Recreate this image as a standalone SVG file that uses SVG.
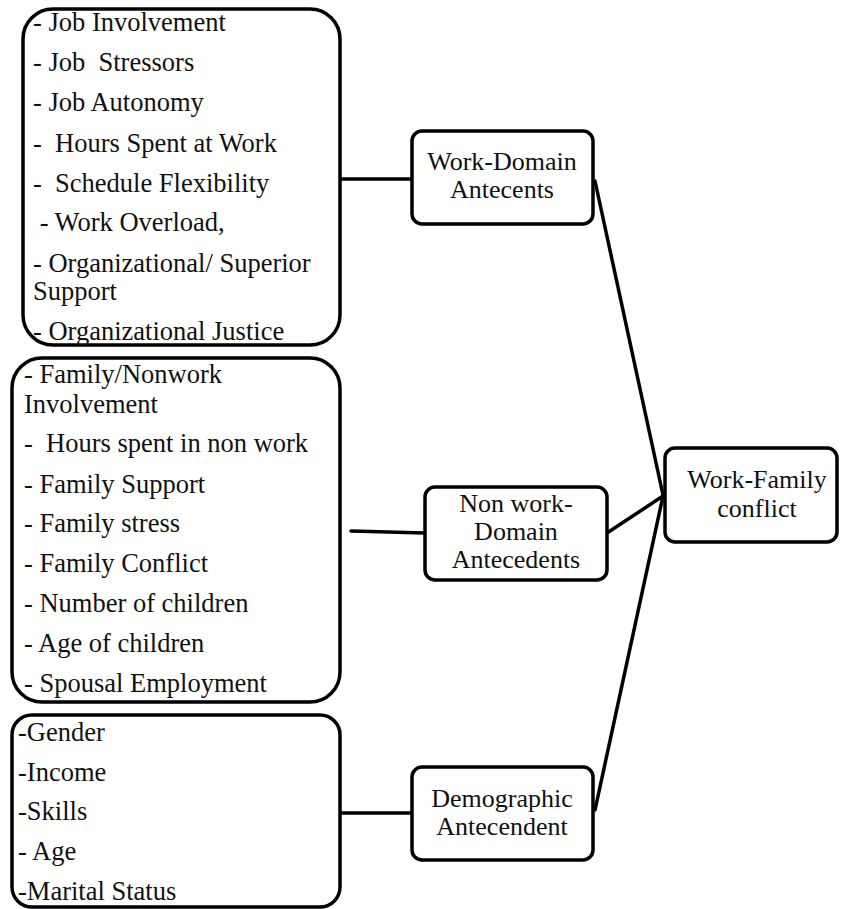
<svg xmlns="http://www.w3.org/2000/svg" width="841" height="909" viewBox="0 0 841 909">
  <style>
    .box { fill: #fff; stroke: #000; stroke-width: 3.5; }
    .edge { fill: none; stroke: #000; stroke-width: 3.5; stroke-linecap: round; }
    .item { font-size: 26.5px; fill: #111; }
    .label { font-size: 26px; text-anchor: middle; fill: #111; }
  </style>
  <rect width="841" height="909" fill="#fff"/>

  <g id="connectors">
    <line class="edge" x1="340" y1="179" x2="412" y2="179"/>
    <line class="edge" x1="351" y1="531" x2="425" y2="533"/>
    <line class="edge" x1="340" y1="813" x2="412" y2="813"/>
    <line class="edge" x1="595" y1="181" x2="663" y2="495"/>
    <line class="edge" x1="607" y1="533" x2="663" y2="496"/>
    <line class="edge" x1="595" y1="810" x2="663" y2="496"/>
  </g>

  <g id="work-items">
    <rect class="box" x="23" y="9" width="317" height="336" rx="30" ry="30"/>
    <text class="item" font-family="Liberation Serif, serif" x="33" y="31">- Job Involvement</text>
    <text class="item" font-family="Liberation Serif, serif" x="33" y="71" xml:space="preserve">- Job  Stressors</text>
    <text class="item" font-family="Liberation Serif, serif" x="33" y="111">- Job Autonomy</text>
    <text class="item" font-family="Liberation Serif, serif" x="33" y="152" xml:space="preserve">-  Hours Spent at Work</text>
    <text class="item" font-family="Liberation Serif, serif" x="33" y="192" xml:space="preserve">-  Schedule Flexibility</text>
    <text class="item" font-family="Liberation Serif, serif" x="33" y="231" xml:space="preserve"> - Work Overload,</text>
    <text class="item" font-family="Liberation Serif, serif" x="33" y="272">- Organizational/ Superior</text>
    <text class="item" font-family="Liberation Serif, serif" x="33" y="300">Support</text>
    <text class="item" font-family="Liberation Serif, serif" x="33" y="340">- Organizational Justice</text>
  </g>

  <g id="nonwork-items">
    <rect class="box" x="12" y="358" width="328" height="344" rx="30" ry="30"/>
    <text class="item" font-family="Liberation Serif, serif" x="24" y="383">- Family/Nonwork</text>
    <text class="item" font-family="Liberation Serif, serif" x="24" y="413">Involvement</text>
    <text class="item" font-family="Liberation Serif, serif" x="24" y="452" xml:space="preserve">-  Hours spent in non work</text>
    <text class="item" font-family="Liberation Serif, serif" x="24" y="493">- Family Support</text>
    <text class="item" font-family="Liberation Serif, serif" x="24" y="532">- Family stress</text>
    <text class="item" font-family="Liberation Serif, serif" x="24" y="572">- Family Conflict</text>
    <text class="item" font-family="Liberation Serif, serif" x="24" y="612">- Number of children</text>
    <text class="item" font-family="Liberation Serif, serif" x="24" y="652">- Age of children</text>
    <text class="item" font-family="Liberation Serif, serif" x="24" y="692">- Spousal Employment</text>
  </g>

  <g id="demographic-items">
    <rect class="box" x="12" y="715" width="328" height="192" rx="20" ry="20"/>
    <text class="item" font-family="Liberation Serif, serif" x="18" y="741">-Gender</text>
    <text class="item" font-family="Liberation Serif, serif" x="18" y="781">-Income</text>
    <text class="item" font-family="Liberation Serif, serif" x="18" y="820">-Skills</text>
    <text class="item" font-family="Liberation Serif, serif" x="18" y="860">- Age</text>
    <text class="item" font-family="Liberation Serif, serif" x="18" y="900">-Marital Status</text>
  </g>

  <g id="work-domain">
    <rect class="box" x="412" y="131" width="181" height="93" rx="10" ry="10"/>
    <text class="label" font-family="Liberation Serif, serif" x="502" y="170">Work-Domain</text>
    <text class="label" font-family="Liberation Serif, serif" x="502" y="198">Antecents</text>
  </g>

  <g id="nonwork-domain">
    <rect class="box" x="425" y="487" width="182" height="93" rx="10" ry="10"/>
    <text class="label" font-family="Liberation Serif, serif" x="516" y="512">Non work-</text>
    <text class="label" font-family="Liberation Serif, serif" x="516" y="540">Domain</text>
    <text class="label" font-family="Liberation Serif, serif" x="516" y="568">Antecedents</text>
  </g>

  <g id="demographic">
    <rect class="box" x="412" y="767" width="181" height="93" rx="10" ry="10"/>
    <text class="label" font-family="Liberation Serif, serif" x="502" y="807">Demographic</text>
    <text class="label" font-family="Liberation Serif, serif" x="502" y="835">Antecendent</text>
  </g>

  <g id="work-family-conflict">
    <rect class="box" x="665" y="448" width="172" height="94" rx="10" ry="10"/>
    <text class="label" font-family="Liberation Serif, serif" x="757" y="488">Work-Family</text>
    <text class="label" font-family="Liberation Serif, serif" x="757" y="517">conflict</text>
  </g>
</svg>
